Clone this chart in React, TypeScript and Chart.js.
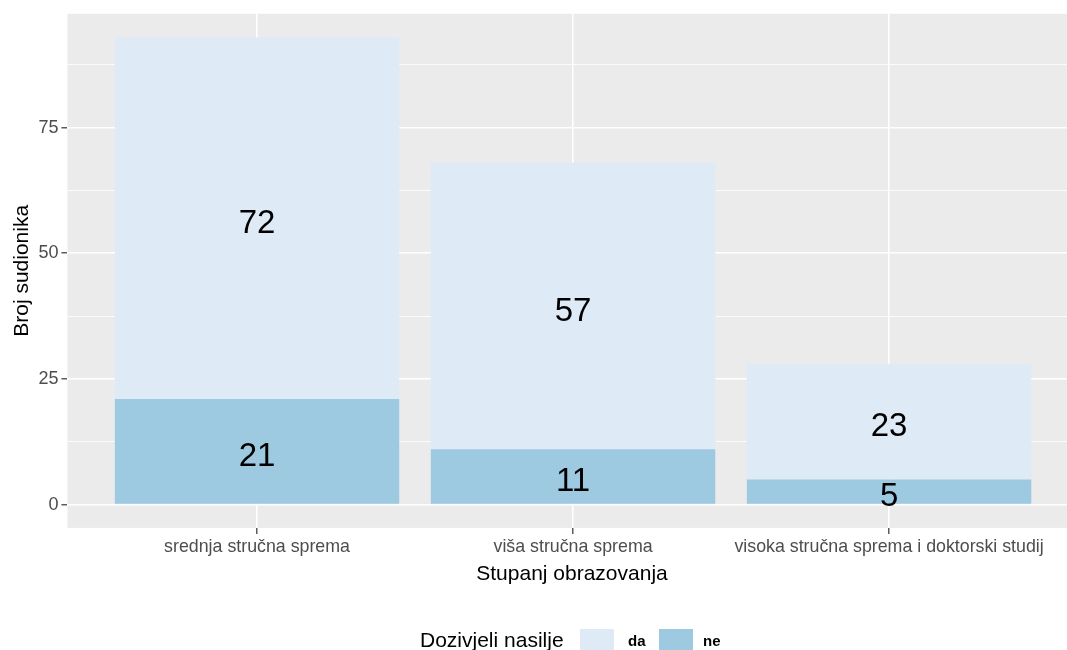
import React, { useEffect, useRef } from "react";
import { Chart, registerables } from "chart.js";

Chart.register(...registerables);

const categories = [
  "srednja stručna sprema",
  "viša stručna sprema",
  "visoka stručna sprema i doktorski studij",
];
const neValues = [21, 11, 5];
const daValues = [72, 57, 23];
const yTicks = [0, 12.5, 25, 37.5, 50, 62.5, 75, 87.5];
const yTickLabels: Record<string, string> = { "0": "0", "25": "25", "50": "50", "75": "75" };
const xTitle = "Stupanj obrazovanja";
const yTitle = "Broj sudionika";
const legendTitle = "Dozivjeli nasilje";
const legendLabels = ["da", "ne"];

const COLOR_DA = "#DEEBF7";
const COLOR_NE = "#9ECAE1";
const FONT = "'Liberation Sans', Arial, sans-serif";

export default function App() {
  const ref = useRef<HTMLCanvasElement | null>(null);

  useEffect(() => {
    if (!ref.current) return;
    const panelBg = {
      id: "panelBg",
      beforeDraw(chart: any) {
        const { ctx, chartArea } = chart;
        ctx.save();
        ctx.fillStyle = "#EBEBEB";
        ctx.fillRect(chartArea.left, chartArea.top, chartArea.right - chartArea.left, chartArea.bottom - chartArea.top);
        ctx.restore();
      },
    };
    const labelsPlugin = {
      id: "barLabels",
      afterDatasetsDraw(chart: any) {
        const { ctx } = chart;
        ctx.save();
        ctx.font = `33px ${FONT}`;
        ctx.fillStyle = "#000000";
        ctx.textAlign = "center";
        ctx.textBaseline = "alphabetic";
        chart.data.datasets.forEach((ds: any, di: number) => {
          const meta = chart.getDatasetMeta(di);
          meta.data.forEach((el: any, i: number) => {
            const v = ds.data[i].y;
            const yc = (el.y + el.base) / 2;
            ctx.fillText(String(v), el.x, yc + 14.5);
          });
        });
        ctx.restore();
      },
    };
    const extras = {
      id: "extras",
      afterDraw(chart: any) {
        const { ctx, chartArea } = chart;
        ctx.save();
        ctx.fillStyle = "#000000";
        ctx.font = `21px ${FONT}`;
        ctx.textAlign = "center";
        ctx.textBaseline = "alphabetic";
        ctx.fillText(xTitle, 572, 580);
        ctx.save();
        ctx.translate(28, (chartArea.top + chartArea.bottom) / 2);
        ctx.rotate(-Math.PI / 2);
        ctx.fillText(yTitle, 0, 0);
        ctx.restore();
        ctx.textAlign = "left";
        ctx.fillText(legendTitle, 420, 647);
        ctx.fillStyle = COLOR_DA;
        ctx.fillRect(580, 629, 34, 34);
        ctx.fillStyle = COLOR_NE;
        ctx.fillRect(659, 629, 34, 34);
        ctx.fillStyle = "#000000";
        ctx.font = `bold 15px ${FONT}`;
        ctx.fillText(legendLabels[0], 628, 646);
        ctx.fillText(legendLabels[1], 703, 646);
        ctx.restore();
      },
    };

    const chart = new Chart(ref.current, {
      type: "bar",
      data: {
        datasets: [
          {
            label: legendLabels[1],
            data: neValues.map((v, i) => ({ x: i + 1, y: v })),
            backgroundColor: COLOR_NE,
            borderWidth: 0,
            barPercentage: 0.9,
            categoryPercentage: 1,
          },
          {
            label: legendLabels[0],
            data: daValues.map((v, i) => ({ x: i + 1, y: v })),
            backgroundColor: COLOR_DA,
            borderWidth: 0,
            barPercentage: 0.9,
            categoryPercentage: 1,
          },
        ],
      },
      options: {
        animation: false,
        responsive: false,
        devicePixelRatio: 1,
        layout: { padding: { left: 0, right: 0, top: 13.6, bottom: 0 } },
        plugins: { legend: { display: false }, tooltip: { enabled: false } },
        scales: {
          x: {
            type: "linear",
            stacked: true,
            offset: false,
            min: 0.4,
            max: 3.563,
            afterBuildTicks(scale: any) {
              scale.ticks = [1, 2, 3].map((v) => ({ value: v }));
            },
            afterFit(scale: any) {
              scale.height = 122.1;
            },
            border: { display: false },
            grid: {
              offset: false,
              color: "#FFFFFF",
              lineWidth: 1.6,
              drawTicks: true,
              tickLength: 6,
              tickColor: "#333333",
              tickWidth: 1.2,
            },
            ticks: {
              autoSkip: false,
              maxRotation: 0,
              padding: 3,
              color: "#4D4D4D",
              font: { family: FONT, size: 17.8 },
              callback: (v: any) => categories[Math.round(Number(v)) - 1] ?? "",
            },
          },
          y: {
            type: "linear",
            stacked: true,
            min: -4.65,
            max: 97.65,
            afterBuildTicks(scale: any) {
              scale.ticks = yTicks.map((v) => ({ value: v }));
            },
            afterFit(scale: any) {
              scale.width = 67.4;
            },
            border: { display: false },
            grid: {
              color: "#FFFFFF",
              lineWidth: (c: any) => (c.tick && c.tick.value % 25 === 0 ? 1.6 : 0.8),
              drawTicks: true,
              tickLength: 6,
              tickColor: (c: any) => (c.tick && c.tick.value % 25 === 0 ? "#333333" : "rgba(0,0,0,0)"),
              tickWidth: 1.2,
            },
            ticks: {
              padding: 3,
              color: "#4D4D4D",
              font: { family: FONT, size: 18 },
              callback: (v: any) => yTickLabels[String(v)] ?? "",
            },
          },
        },
      },
      plugins: [panelBg, labelsPlugin, extras],
    });
    return () => chart.destroy();
  }, []);

  return (
    <div style={{ position: "absolute", left: 0, top: 0, width: 1067, height: 650, background: "#FFFFFF" }}>
      <canvas ref={ref} width={1067} height={650} style={{ display: "block" }} />
    </div>
  );
}
